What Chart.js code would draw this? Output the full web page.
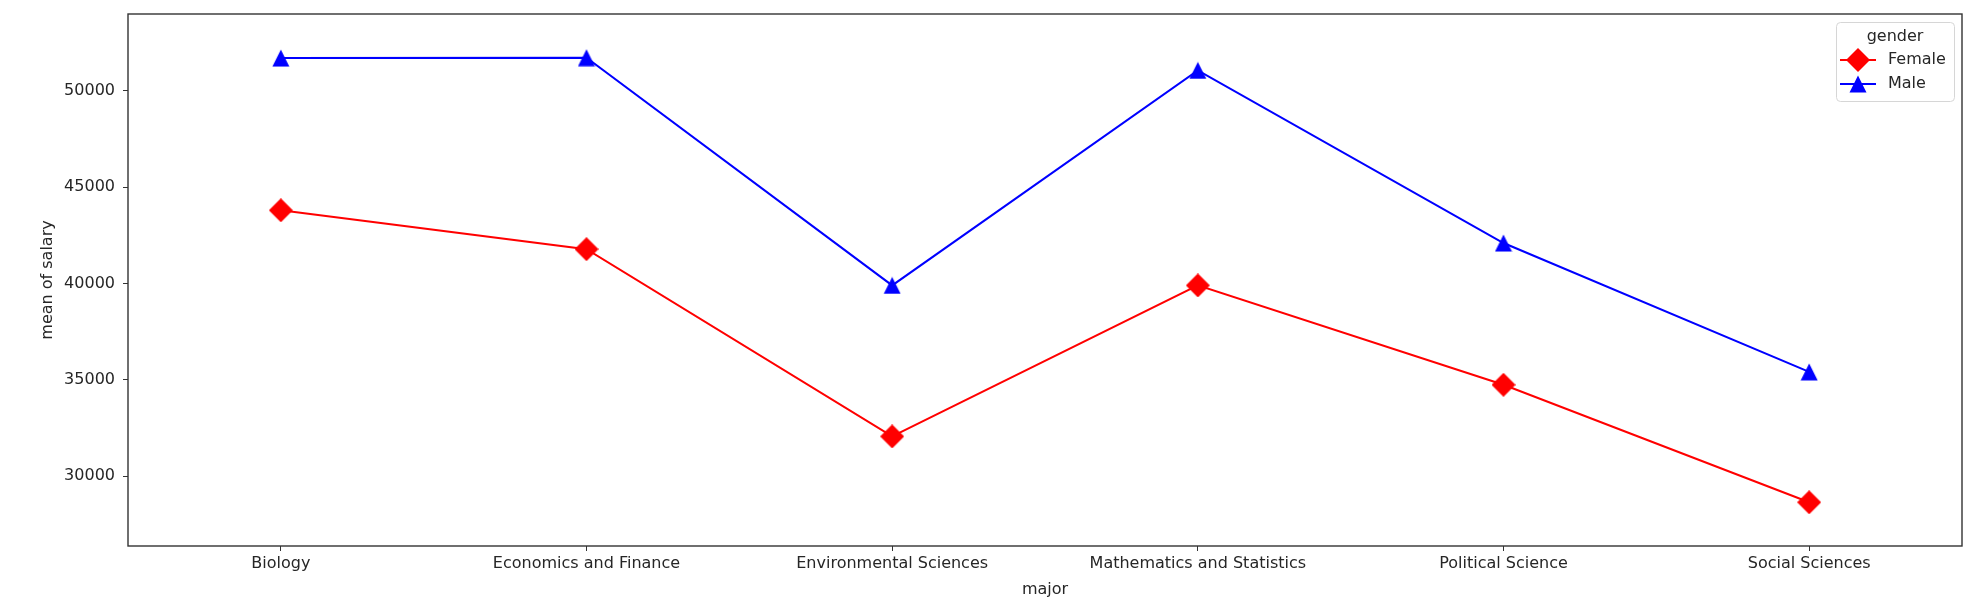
<!DOCTYPE html>
<html>
<head>
<meta charset="utf-8">
<script src="https://cdn.jsdelivr.net/npm/chart.js@4.4.0/dist/chart.umd.min.js"></script>
<style>
  html, body { margin: 0; padding: 0; background: #fff; }
  #wrap { width: 1984px; height: 604px; }
</style>
</head>
<body>
<div id="wrap"><canvas id="salaryChart"></canvas></div>
<script>
const majors = ['Biology', 'Economics and Finance', 'Environmental Sciences',
  'Mathematics and Statistics', 'Political Science', 'Social Sciences'];
const femaleSalary = [43800, 41780, 32060, 39900, 34740, 28640];
const maleSalary = [51700, 51720, 39900, 51060, 42100, 35410];
const yTicks = [30000, 35000, 40000, 45000, 50000];
const yMin = 26370;
const yMax = 53990;

const FONT = 'DejaVu Sans';
const TEXT = '#262626';
const AXIS = '#333333';

// marker images so the shape is centred like the matplotlib ones
function makeTriangle(color, size) {
  const c = document.createElement('canvas');
  c.width = size; c.height = size;
  const g = c.getContext('2d');
  g.fillStyle = color;
  g.beginPath();
  g.moveTo(size / 2, 0.5);
  g.lineTo(size - 0.5, size - 0.5);
  g.lineTo(0.5, size - 0.5);
  g.closePath();
  g.fill();
  return c;
}

function makeDiamond(color, size) {
  const c = document.createElement('canvas');
  c.width = size; c.height = size;
  const g = c.getContext('2d');
  g.fillStyle = color;
  g.beginPath();
  g.moveTo(size / 2, 0);
  g.lineTo(size, size / 2);
  g.lineTo(size / 2, size);
  g.lineTo(0, size / 2);
  g.closePath();
  g.fill();
  return c;
}

const diamond = makeDiamond('#ff0000', 24);
const triangle = makeTriangle('#0000ff', 18);

const framePlugin = {
  id: 'frame',
  afterDraw(chart) {
    const { ctx, chartArea: a } = chart;
    ctx.save();
    ctx.strokeStyle = AXIS;
    ctx.lineWidth = 1.4;
    ctx.strokeRect(a.left, a.top, a.right - a.left, a.bottom - a.top);
    ctx.restore();
  }
};

const legendPlugin = {
  id: 'innerLegend',
  afterDraw(chart) {
    const { ctx, chartArea: a } = chart;
    const boxW = 118, boxH = 79;
    const x = a.right - 8 - boxW;
    const y = a.top + 8;
    ctx.save();
    ctx.fillStyle = 'rgba(255,255,255,0.8)';
    ctx.strokeStyle = '#d6d6d6';
    ctx.lineWidth = 1;
    ctx.beginPath();
    ctx.roundRect(x + 0.5, y + 0.5, boxW, boxH, 4);
    ctx.fill();
    ctx.stroke();

    ctx.font = '16px "' + FONT + '"';
    ctx.fillStyle = TEXT;
    ctx.textAlign = 'center';
    ctx.textBaseline = 'middle';
    ctx.fillText('gender', x + boxW / 2, y + 15);

    chart.data.datasets.forEach((ds, i) => {
      const ly = y + 38 + i * 24;
      ctx.strokeStyle = ds.borderColor;
      ctx.lineWidth = 2;
      ctx.beginPath();
      ctx.moveTo(x + 4, ly);
      ctx.lineTo(x + 40, ly);
      ctx.stroke();
      const img = ds.pointStyle;
      ctx.drawImage(img, x + 22 - img.width / 2, ly - img.height / 2);
      ctx.fillStyle = TEXT;
      ctx.textAlign = 'left';
      ctx.fillText(ds.label, x + 52, ly);
    });
    ctx.restore();
  }
};

new Chart(document.getElementById('salaryChart'), {
  type: 'line',
  data: {
    labels: majors,
    datasets: [{
      label: 'Female',
      data: femaleSalary,
      borderColor: '#ff0000',
      backgroundColor: '#ff0000',
      borderWidth: 2,
      pointStyle: diamond,
      pointRadius: 12,
      tension: 0
    }, {
      label: 'Male',
      data: maleSalary,
      borderColor: '#0000ff',
      backgroundColor: '#0000ff',
      borderWidth: 2,
      pointStyle: triangle,
      pointRadius: 9,
      tension: 0
    }]
  },
  options: {
    responsive: true,
    maintainAspectRatio: false,
    devicePixelRatio: 1,
    animation: false,
    layout: { padding: { top: 11, right: 22, left: 0, bottom: 0 } },
    plugins: {
      legend: { display: false },
      tooltip: { enabled: false }
    },
    scales: {
      x: {
        offset: true,
        afterFit(scale) {
          scale.height = 58;
          scale.paddingLeft = 0;
          scale.paddingRight = 0;
        },
        grid: { display: true, drawOnChartArea: false, drawTicks: true, tickLength: 5, color: AXIS },
        border: { display: false },
        ticks: { color: TEXT, padding: 3, font: { family: FONT, size: 16 } },
        title: {
          display: true,
          text: 'major',
          color: TEXT,
          font: { family: FONT, size: 16 },
          padding: { top: 0, bottom: 5 }
        }
      },
      y: {
        min: yMin,
        max: yMax,
        afterFit(scale) {
          scale.width = 128;
          scale.paddingTop = 0;
          scale.paddingBottom = 0;
        },
        afterBuildTicks(scale) { scale.ticks = yTicks.map(v => ({ value: v })); },
        grid: { display: true, drawOnChartArea: false, drawTicks: true, tickLength: 5, color: AXIS },
        border: { display: false },
        ticks: {
          color: TEXT,
          padding: 8,
          font: { family: FONT, size: 16 },
          callback: v => String(v)
        },
        title: {
          display: true,
          text: 'mean of salary',
          color: TEXT,
          font: { family: FONT, size: 16 },
          padding: { top: 38, bottom: 0 }
        }
      }
    }
  },
  plugins: [framePlugin, legendPlugin]
});
</script>
</body>
</html>
